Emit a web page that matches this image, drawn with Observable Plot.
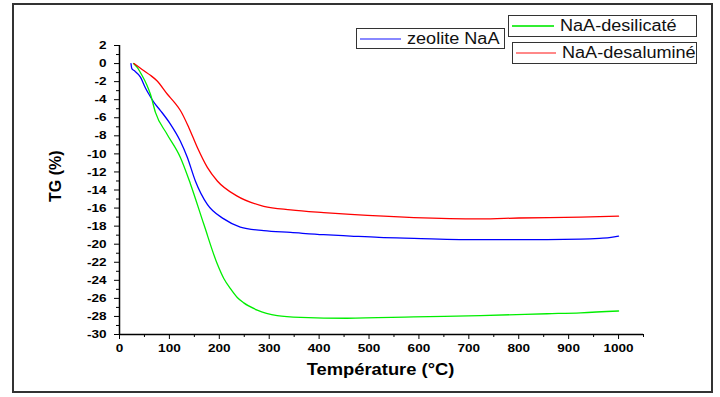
<!DOCTYPE html>
<html>
<head>
<meta charset="utf-8">
<script src="https://cdn.jsdelivr.net/npm/d3@7"></script>
<script src="https://cdn.jsdelivr.net/npm/@observablehq/plot@0.6"></script>
<style>
  html, body { margin: 0; padding: 0; background: #fff; }
  #wrap { position: relative; width: 720px; height: 397px; overflow: hidden; font-family: "Liberation Sans", Arial, sans-serif; }
  #frame { position: absolute; left: 12px; top: 3px; width: 697px; height: 386px; border: 2px solid #333; pointer-events: none; }
  .leg { position: absolute; border: 1px solid #333; background: #fff; display: flex; align-items: center; font-size: 16px; color: #111; box-sizing: border-box; white-space: nowrap; }
  .leg span.sw { display: inline-block; height: 2px; margin: 0 6px 0 3px; flex: none; }
  .leg span.tx { display: inline-block; transform: scaleX(1.13); transform-origin: left center; }
</style>
</head>
<body>
<div id="wrap"></div>
<script>
// ---- data ----
const seriesNames = ["zeolite NaA", "NaA-desilicaté", "NaA-desaluminé"];
const seriesColors = ["#0000ff", "#00ee00", "#ff0000"];
const legendColors = ["#8888ff", "#33ee33", "#ff8888"];

const tempZeolite = [23, 25, 30, 42, 52, 59, 69, 82, 102, 122, 136, 152, 176, 209, 242, 289, 343, 409, 463, 520, 590, 723, 857, 924, 962, 985, 1000];
const tgZeolite   = [0, -0.6, -0.8, -1.5, -2.7, -3.4, -4.3, -5.2, -6.7, -8.6, -10.4, -13, -15.6, -17.2, -18.1, -18.5, -18.7, -18.95, -19.1, -19.25, -19.35, -19.5, -19.5, -19.45, -19.35, -19.25, -19.1];

const tempDesil = [28, 35, 45, 55, 62, 72, 95, 122, 142, 169, 196, 209, 222, 236, 249, 276, 316, 363, 456, 590, 723, 857, 924, 1000];
const tgDesil   = [0, -0.4, -1.3, -2.4, -3.4, -5.4, -7.8, -10.4, -13.3, -17.8, -22.2, -23.8, -24.9, -25.9, -26.5, -27.3, -27.9, -28.1, -28.2, -28.05, -27.9, -27.7, -27.6, -27.4];

const tempDesal = [29, 49, 62, 75, 96, 110, 122, 139, 156, 176, 196, 235, 289, 343, 409, 463, 590, 723, 800, 924, 1000];
const tgDesal   = [0, -0.8, -1.3, -1.9, -3.4, -4.3, -5.2, -7.1, -9.3, -11.5, -13, -14.65, -15.8, -16.2, -16.5, -16.7, -17.05, -17.2, -17.1, -17.0, -16.9];

const xMajorTicks = d3.range(0, 1001, 100);
const xMinorTicks = d3.range(50, 1051, 100);
const yMajorTicks = d3.range(-30, 3, 2);
const yMinorTicks = d3.range(-29, 2, 2);
const xDomain = [0, 1050];
const yDomain = [-30, 2];
const xLabel = "Température (°C)";
const yLabel = "TG (%)";

// ---- build table ----
const rows = [];
[[tempZeolite, tgZeolite], [tempDesil, tgDesil], [tempDesal, tgDesal]].forEach(([t, v], i) => {
  t.forEach((x, j) => rows.push({series: seriesNames[i], T: x, TG: v[j]}));
});

const chart = Plot.plot({
  width: 720,
  height: 397,
  marginLeft: 119,
  marginRight: 77,
  marginTop: 45,
  marginBottom: 63,
  style: {fontFamily: "'Liberation Sans', Arial, sans-serif", fontSize: "11.5px", fontWeight: "bold", color: "#000", background: "transparent"},
  x: {domain: xDomain},
  y: {domain: yDomain},
  color: {domain: seriesNames, range: seriesColors},
  marks: [
    Plot.axisX({ticks: xMajorTicks, tickSize: 5, tickPadding: 4, label: null, tickFormat: d3.format("d")}),
    Plot.axisX({ticks: xMinorTicks, tickSize: 3, label: null, tickFormat: () => ""}),
    Plot.axisY({ticks: yMajorTicks, tickSize: 5, tickPadding: 8, label: null, tickFormat: d => d3.format("d")(d).replace("−", "-")}),
    Plot.axisY({ticks: yMinorTicks, tickSize: 3, label: null, tickFormat: () => ""}),
    Plot.ruleX([0], {y1: yDomain[0], y2: yDomain[1], stroke: "#000", strokeWidth: 1.5}),
    Plot.ruleY([yDomain[0]], {x1: xDomain[0], x2: xDomain[1], stroke: "#000", strokeWidth: 1.5}),
    Plot.line(rows, {x: "T", y: "TG", z: "series", stroke: "series", strokeWidth: 1.3, curve: "monotone-x"}),
    Plot.text([xLabel], {frameAnchor: "bottom", dx: -1, dy: 40, fontSize: 17, fontWeight: "bold"}),
    Plot.text([yLabel], {frameAnchor: "left", dx: -64, dy: 12, rotate: -90, fontSize: 16, fontWeight: "bold"})
  ]
});

// stretch the text horizontally like the reference's wide glyphs
d3.select(chart).selectAll("g[aria-label='x-axis tick label'] text, g[aria-label='y-axis tick label'] text").each(function() {
  const t = this.getAttribute("transform") || "";
  this.setAttribute("transform", t + " scale(1.18,1)");
});
d3.select(chart).selectAll("text").each(function() {
  if (this.textContent === xLabel) {
    const t = this.getAttribute("transform") || "";
    this.setAttribute("transform", t + " scale(1.08,1)");
  }
});

const wrap = document.getElementById("wrap");
wrap.appendChild(chart);
chart.style.position = "absolute";
chart.style.left = "0";
chart.style.top = "0";

const frame = document.createElement("div");
frame.id = "frame";
wrap.appendChild(frame);

// legend boxes (positions in page pixels)
const legendBoxes = [
  {i: 0, left: 356, top: 28, w: 149, h: 21, sw: 41},
  {i: 1, left: 508, top: 15, w: 189, h: 22, sw: 42},
  {i: 2, left: 512, top: 42, w: 185, h: 22, sw: 40}
];
legendBoxes.forEach(b => {
  const d = document.createElement("div");
  d.className = "leg";
  d.style.left = b.left + "px";
  d.style.top = b.top + "px";
  d.style.width = b.w + "px";
  d.style.height = b.h + "px";
  const s = document.createElement("span");
  s.className = "sw";
  s.style.width = b.sw + "px";
  s.style.background = legendColors[b.i];
  d.appendChild(s);
  const tx = document.createElement("span");
  tx.className = "tx";
  tx.textContent = seriesNames[b.i];
  d.appendChild(tx);
  wrap.appendChild(d);
});
</script>
</body>
</html>
